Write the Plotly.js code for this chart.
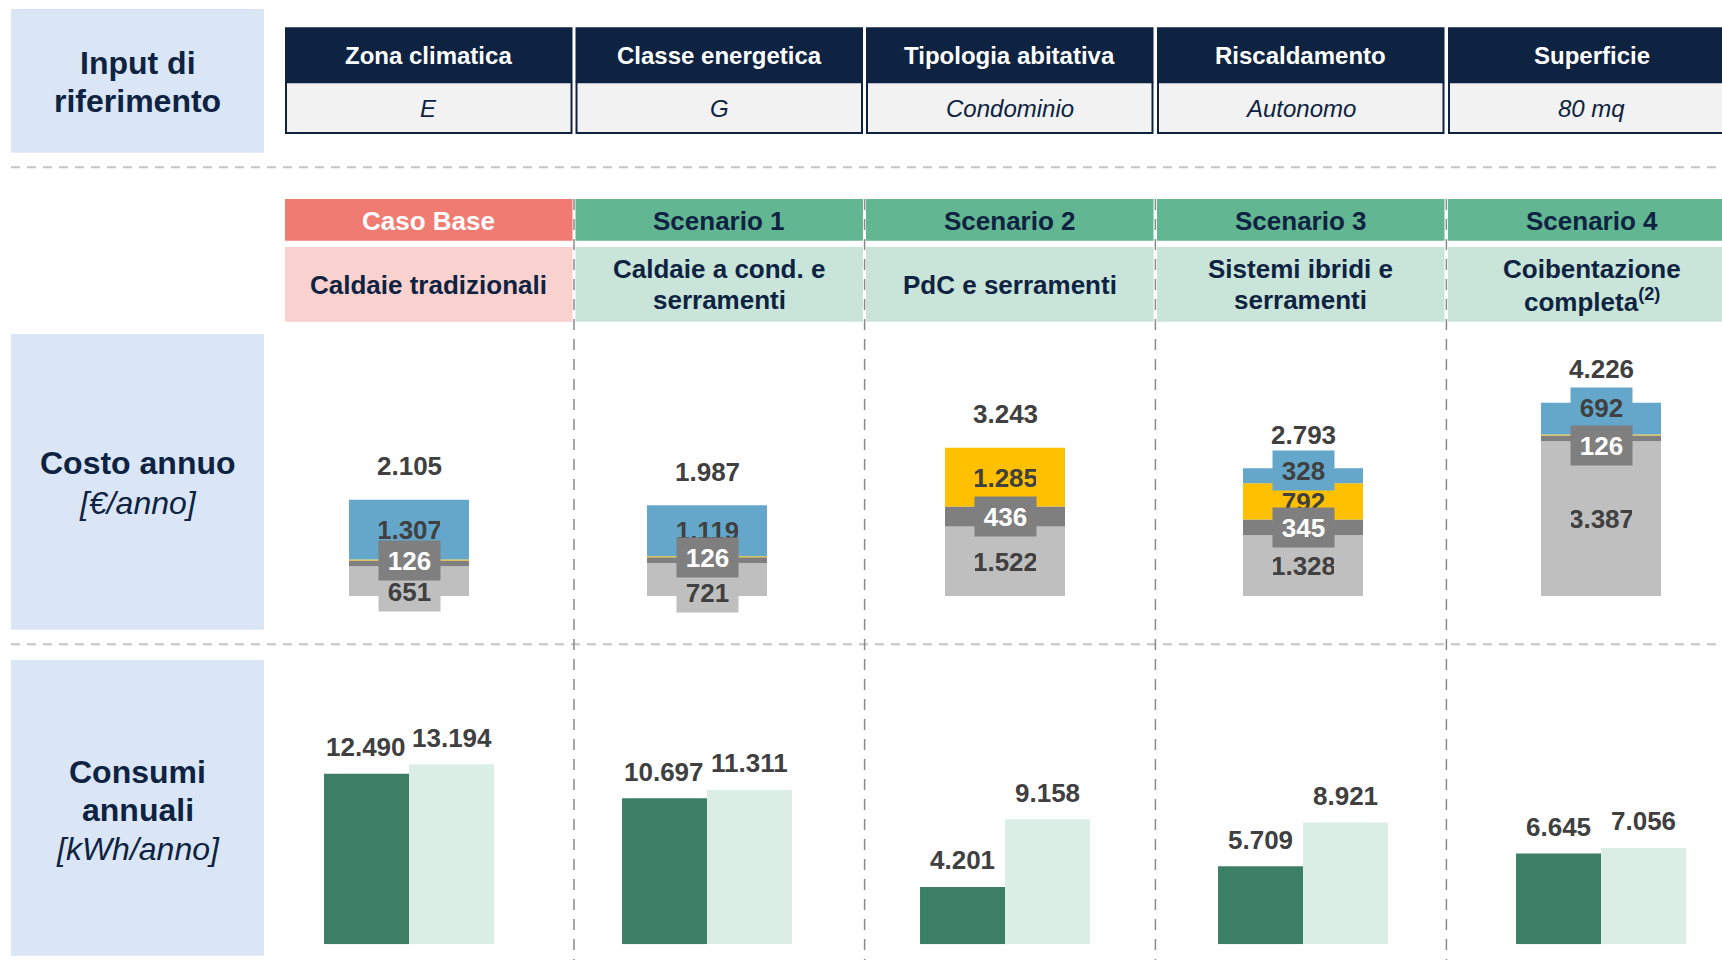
<!DOCTYPE html>
<html>
<head>
<meta charset="utf-8">
<script src="https://cdn.plot.ly/plotly-3.0.1.min.js"></script>
<style>html,body{margin:0;padding:0;background:#fff;}#chart{width:1722px;height:960px;}</style>
</head>
<body>
<div id="chart"></div>
<script>
// ---------------- DATA ----------------
const categories = ['Caso Base', 'Scenario 1', 'Scenario 2', 'Scenario 3', 'Scenario 4'];
const subtitles = [['Caldaie tradizionali'], ['Caldaie a cond. e', 'serramenti'], ['PdC e serramenti'], ['Sistemi ibridi e', 'serramenti'], ['Coibentazione', 'completa<sup>(2)</sup>']];
const inputLabels = ['Zona climatica', 'Classe energetica', 'Tipologia abitativa', 'Riscaldamento', 'Superficie'];
const inputValues = ['E', 'G', 'Condominio', 'Autonomo', '80 mq'];
const rowLabels = [['Input di', 'riferimento'], ['Costo annuo', '<i>[€/anno]</i>'], ['Consumi', 'annuali', '<i>[kWh/anno]</i>']];

// Costo annuo [€/anno] – stacked components (bottom to top)
const costGray = [651, 721, 1522, 1328, 3387];
const costDarkGray = [126, 126, 436, 345, 126];
const costYellow = [21, 21, 1285, 792, 21];
const costBlue = [1307, 1119, 0, 328, 692];
const costTotal = [2105, 1987, 3243, 2793, 4226];

// Consumi annuali [kWh/anno]
const consumiA = [12490, 10697, 4201, 5709, 6645];
const consumiB = [13194, 11311, 9158, 8921, 7056];

// ---------------- STYLE / LAYOUT ----------------
const W = 1722, H = 960;
const X = p => p / W;
const Y = p => 1 - p / H;
const FONT = 'Liberation Sans, Arial, Helvetica, sans-serif';
const NAVY = '#0E2341';
const LABEL = '#404040';
const fmt = n => String(n).replace(/\B(?=(\d{3})+(?!\d))/g, '.');

const colLeft = [285, 575.5, 866, 1157, 1448];
const colW = 287.5;
const colCenter = colLeft.map(l => l + colW / 2);

const shapes = [];
const annotations = [];

function rect(x0, y0, x1, y1, fill, line) {
  shapes.push({type: 'rect', xref: 'paper', yref: 'paper', x0: X(x0), x1: X(x1), y0: Y(y1), y1: Y(y0),
    fillcolor: fill, line: line || {width: 0}, layer: 'below'});
}
function line(x0, y0, x1, y1, color, width, dash) {
  shapes.push({type: 'line', xref: 'paper', yref: 'paper', x0: X(x0), x1: X(x1), y0: Y(y0), y1: Y(y1),
    line: {color: color, width: width, dash: dash}, layer: 'below'});
}
function txt(x, y, t, size, color, bold, italic) {
  let s = t;
  if (italic) s = '<i>' + s + '</i>';
  if (bold) s = '<b>' + s + '</b>';
  annotations.push({xref: 'paper', yref: 'paper', x: X(x), y: Y(y), text: s, showarrow: false,
    xanchor: 'center', yanchor: 'middle', font: {family: FONT, size: size, color: color}});
}

// dashed separators
line(11, 167.3, W, 167.3, '#C4C4C4', 2, '9px,7px');
line(11, 644.3, W, 644.3, '#C4C4C4', 2, '9px,7px');
[574, 864.6, 1155.4, 1446.4].forEach(x => line(x, 199, x, H, '#8A8A8A', 1.5, '11px,9px'));

// left row-label boxes
const leftBoxes = [[9, 152.7], [334, 629.7], [660, 955.7]];
leftBoxes.forEach(b => rect(11, b[0], 264, b[1], '#DAE6F6'));
const rowLineY = [[63.3, 100.7], [463.3, 503.3], [771.7, 810, 849.3]];
rowLabels.forEach((lines, r) => lines.forEach((t, k) => {
  const isUnit = t.indexOf('<i>') === 0;
  txt(137.5, rowLineY[r][k], t, 32, NAVY, !isUnit, false);
}));

// input table
inputLabels.forEach((lab, i) => {
  const l = colLeft[i], r = l + colW;
  rect(l, 27.3, r, 82.3, NAVY);
  rect(l + 1, 82.3, r - 1, 133, '#F2F2F2', {color: NAVY, width: 2});
  txt(colCenter[i], 55.5, lab, 24, '#FFFFFF', true, false);
  txt(colCenter[i], 108.5, inputValues[i], 24, NAVY, false, true);
});

// scenario headers
categories.forEach((c, i) => {
  const l = colLeft[i], r = l + colW;
  const base = i === 0;
  rect(l, 199, r, 240.7, base ? '#F07B73' : '#63B692');
  rect(l, 247, r, 321.7, base ? '#F9D2CF' : '#C9E4D8');
  txt(colCenter[i], 221, c, 26, base ? '#FFFFFF' : NAVY, true, false);
  const sub = subtitles[i];
  if (sub.length === 1) txt(colCenter[i], 284.5, sub[0], 26, NAVY, true, false);
  else { txt(colCenter[i], 269.3, sub[0], 26, NAVY, true, false); txt(colCenter[i], 300, sub[1], 26, NAVY, true, false); }
});

// ---------------- TRACES ----------------
const traces = [];
const segs = [
  {name: 'Componente 1', vals: costGray, color: '#BFBFBF', text: LABEL},
  {name: 'Componente 2', vals: costDarkGray, color: '#7F7F7F', text: '#FFFFFF'},
  {name: 'Componente 3', vals: costYellow, color: '#FFC000', text: LABEL},
  {name: 'Componente 4', vals: costBlue, color: '#65A7CB', text: LABEL}
];
let cum = categories.map(() => 0);
segs.forEach(s => {
  s.base = cum.slice();
  traces.push({type: 'bar', name: s.name, x: categories, y: s.vals, base: s.base, width: 0.4027,
    marker: {color: s.color, line: {width: 0}}, xaxis: 'x', yaxis: 'y', hoverinfo: 'skip'});
  cum = cum.map((c, i) => c + s.vals[i]);
});

traces.push({type: 'bar', name: 'Consumi A', x: categories, y: consumiA, width: 0.2852, offset: -0.2852,
  marker: {color: '#3D7F64', line: {width: 0}}, xaxis: 'x2', yaxis: 'y2', hoverinfo: 'skip'});
traces.push({type: 'bar', name: 'Consumi B', x: categories, y: consumiB, width: 0.2852, offset: 0,
  marker: {color: '#DAEEE5', line: {width: 0}}, xaxis: 'x2', yaxis: 'y2', hoverinfo: 'skip'});

// segment labels (boxed in segment colour), pixel nudges keyed "category-segment"
const nudge = {'0-0': -10, '1-0': -13, '0-1': 3, '1-1': 3, '4-1': -7, '3-3': 5, '4-3': 11};
[2, 0, 3, 1].forEach(si => {
  const s = segs[si];
  categories.forEach((c, i) => {
    const v = s.vals[i];
    if (v < 100) return;
    annotations.push({xref: 'x', yref: 'y', x: c, y: s.base[i] + v / 2, text: '<b>' + fmt(v) + '</b>',
      showarrow: false, xanchor: 'center', yanchor: 'middle', yshift: nudge[i + '-' + si] || 0,
      width: 61, height: 39, bgcolor: s.color, borderpad: 0, align: 'center', valign: 'middle',
      font: {family: FONT, size: 26, color: s.text}});
  });
});
// totals
categories.forEach((c, i) => {
  annotations.push({xref: 'x', yref: 'y', x: c, y: costTotal[i], text: '<b>' + fmt(costTotal[i]) + '</b>',
    showarrow: false, xanchor: 'center', yanchor: 'middle', yshift: 33.5,
    font: {family: FONT, size: 26, color: LABEL}});
});
// consumption labels
categories.forEach((c, i) => {
  [[consumiA, -42.6], [consumiB, 42.6]].forEach(([arr, dx]) => {
    annotations.push({xref: 'x2', yref: 'y2', x: c, y: arr[i], text: '<b>' + fmt(arr[i]) + '</b>',
      showarrow: false, xanchor: 'center', yanchor: 'middle', yshift: 26.5, xshift: dx,
      font: {family: FONT, size: 26, color: LABEL}});
  });
});

const xRange = [-1.3725, 4.406];
const layout = {
  width: W, height: H, autosize: false,
  margin: {l: 0, r: 0, t: 0, b: 0, pad: 0},
  paper_bgcolor: '#FFFFFF', plot_bgcolor: 'rgba(0,0,0,0)',
  showlegend: false, barmode: 'overlay', separators: ',.',
  font: {family: FONT},
  xaxis: {type: 'category', categoryorder: 'array', categoryarray: categories, range: xRange, domain: [0, 1],
    visible: false, fixedrange: true, anchor: 'y'},
  yaxis: {domain: [Y(596), Y(300)], range: [0, 296 / 0.0457], visible: false, fixedrange: true, anchor: 'x'},
  xaxis2: {type: 'category', categoryorder: 'array', categoryarray: categories, range: xRange, domain: [0, 1],
    visible: false, fixedrange: true, anchor: 'y2'},
  yaxis2: {domain: [Y(944.3), Y(650)], range: [0, 294.3 / 0.01365], visible: false, fixedrange: true, anchor: 'x2'},
  shapes: shapes,
  annotations: annotations
};

Plotly.newPlot('chart', traces, layout, {staticPlot: true, displayModeBar: false});
</script>
</body>
</html>
